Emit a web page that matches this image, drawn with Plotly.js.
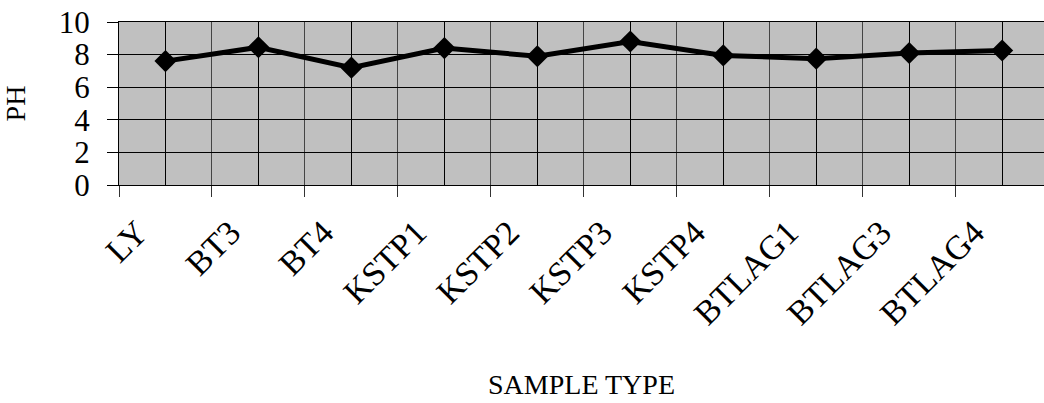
<!DOCTYPE html>
<html>
<head>
<meta charset="utf-8">
<script src="https://cdn.plot.ly/plotly-3.0.1.min.js"></script>
<style>
html,body{margin:0;padding:0;overflow:hidden;background:#fff;}
#chart{width:1044px;height:403px;}
</style>
</head>
<body>
<div id="chart"></div>
<script>
const categories = ["LY","BT3","BT4","KSTP1","KSTP2","KSTP3","KSTP4","BTLAG1","BTLAG3","BTLAG4"];
const phValues = [7.6, 8.45, 7.2, 8.4, 7.9, 8.8, 7.95, 7.75, 8.1, 8.25];
const yTicks = [0, 2, 4, 6, 8, 10];

const idx = categories.map((_, i) => i);
const font = "Liberation Serif, Times New Roman, serif";

const trace = {
  x: idx,
  y: phValues,
  type: "scatter",
  mode: "lines+markers",
  line: {color: "#000", width: 5},
  marker: {symbol: "diamond", size: 17, color: "#000"},
  hoverinfo: "skip",
  showlegend: false
};

const layout = {
  width: 1044,
  height: 403,
  margin: {l: 119, r: 0, t: 22, b: 218},
  paper_bgcolor: "#ffffff",
  plot_bgcolor: "#c0c0c0",
  font: {family: font, color: "#000"},
  showlegend: false,
  xaxis: {
    range: [-0.5, 9.45],
    tickmode: "array",
    tickvals: idx,
    ticktext: categories,
    ticks: "",
    tickangle: -45,
    tickfont: {family: font, size: 34, color: "#000"},
    ticklabelstandoff: 13,
    ticklabelshift: -28,
    showgrid: true,
    gridcolor: "#000",
    gridwidth: 1,
    showline: true,
    linecolor: "#000",
    linewidth: 1,
    mirror: true,
    zeroline: false,
    minor: {
      tickmode: "linear",
      tick0: 0.5,
      dtick: 1,
      ticks: "outside",
      ticklen: 11,
      tickcolor: "#333",
      showgrid: true,
      gridcolor: "#444",
      gridwidth: 1
    },
    title: {text: "SAMPLE TYPE", font: {family: font, size: 28, color: "#000"}, standoff: 43},
    automargin: false
  },
  yaxis: {
    range: [0, 10],
    tickmode: "array",
    tickvals: yTicks,
    ticktext: yTicks.map(String),
    ticks: "outside",
    ticklen: 11,
    tickcolor: "#000",
    tickfont: {family: font, size: 31, color: "#000"},
    ticklabelstandoff: 11,
    showgrid: true,
    gridcolor: "#000",
    gridwidth: 1,
    showline: true,
    linecolor: "#000",
    linewidth: 1,
    zeroline: false,
    title: {text: "PH", font: {family: font, size: 28, color: "#000"}, standoff: 24},
    automargin: false
  }
};

Plotly.newPlot("chart", [trace], layout, {staticPlot: true, displayModeBar: false});
</script>
</body>
</html>
